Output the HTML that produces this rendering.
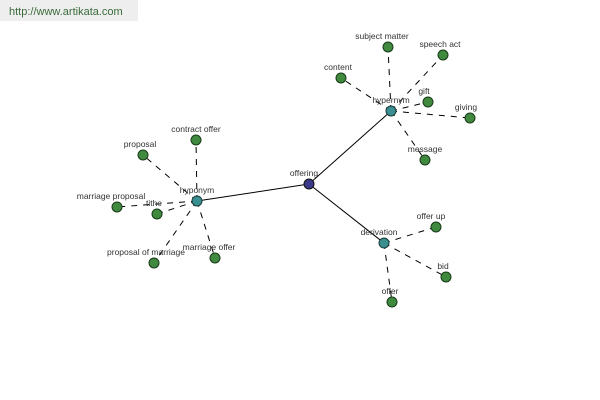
<!DOCTYPE html>
<html><head><style>body{margin:0;background:#fff}svg{display:block}</style></head><body>
<svg width="600" height="400" xmlns="http://www.w3.org/2000/svg" font-family="Liberation Sans, sans-serif" font-size="8.5" fill="#333">
<rect x="0" y="0" width="138" height="21" fill="#eeeeee"/>
<text x="9" y="15" font-size="11" fill="#3a6b3a">http://www.artikata.com</text>
<g stroke="#000" stroke-width="1">
<line x1="309" y1="184" x2="197" y2="201"/>
<line x1="309" y1="184" x2="391" y2="111"/>
<line x1="309" y1="184" x2="384" y2="243"/>
</g>
<g stroke="#000" stroke-width="1" stroke-dasharray="6,6">
<line x1="197" y1="201" x2="196" y2="140"/>
<line x1="197" y1="201" x2="143" y2="155"/>
<line x1="197" y1="201" x2="117" y2="207"/>
<line x1="197" y1="201" x2="157" y2="214"/>
<line x1="197" y1="201" x2="154" y2="263"/>
<line x1="197" y1="201" x2="215" y2="258"/>
<line x1="391" y1="111" x2="388" y2="47"/>
<line x1="391" y1="111" x2="443" y2="55"/>
<line x1="391" y1="111" x2="341" y2="78"/>
<line x1="391" y1="111" x2="428" y2="102"/>
<line x1="391" y1="111" x2="470" y2="118"/>
<line x1="391" y1="111" x2="425" y2="160"/>
<line x1="384" y1="243" x2="436" y2="227"/>
<line x1="384" y1="243" x2="446" y2="277"/>
<line x1="384" y1="243" x2="392" y2="302"/>
</g>
<g fill="#3f8a3f" stroke="#1a3a1a" stroke-width="1">
<circle cx="196" cy="140" r="5"/><circle cx="143" cy="155" r="5"/><circle cx="117" cy="207" r="5"/>
<circle cx="157" cy="214" r="5"/><circle cx="154" cy="263" r="5"/><circle cx="215" cy="258" r="5"/>
<circle cx="388" cy="47" r="5"/><circle cx="443" cy="55" r="5"/><circle cx="341" cy="78" r="5"/>
<circle cx="428" cy="102" r="5"/><circle cx="470" cy="118" r="5"/><circle cx="425" cy="160" r="5"/>
<circle cx="436" cy="227" r="5"/><circle cx="446" cy="277" r="5"/><circle cx="392" cy="302" r="5"/>
</g>
<g fill="#3a9090" stroke="#1a3a3a">
<circle cx="197" cy="201" r="5"/><circle cx="391" cy="111" r="5"/><circle cx="384" cy="243" r="5"/>
</g>
<circle cx="309" cy="184" r="5" fill="#3a3a8a" stroke="#111"/>
<g text-anchor="middle">
<text x="197" y="193">hyponym</text>
<text x="391" y="103">hypernym</text>
<text x="379" y="235">derivation</text>
<text x="304" y="176">offering</text>
<text x="196" y="132">contract offer</text>
<text x="140" y="147">proposal</text>
<text x="111" y="199">marriage proposal</text>
<text x="154" y="206">tithe</text>
<text x="146" y="255">proposal of marriage</text>
<text x="209" y="250">marriage offer</text>
<text x="382" y="39">subject matter</text>
<text x="440" y="47">speech act</text>
<text x="338" y="70">content</text>
<text x="424" y="94">gift</text>
<text x="466" y="110">giving</text>
<text x="425" y="152">message</text>
<text x="431" y="219">offer up</text>
<text x="443" y="269">bid</text>
<text x="390" y="294">offer</text>
</g>
</svg>
</body></html>
